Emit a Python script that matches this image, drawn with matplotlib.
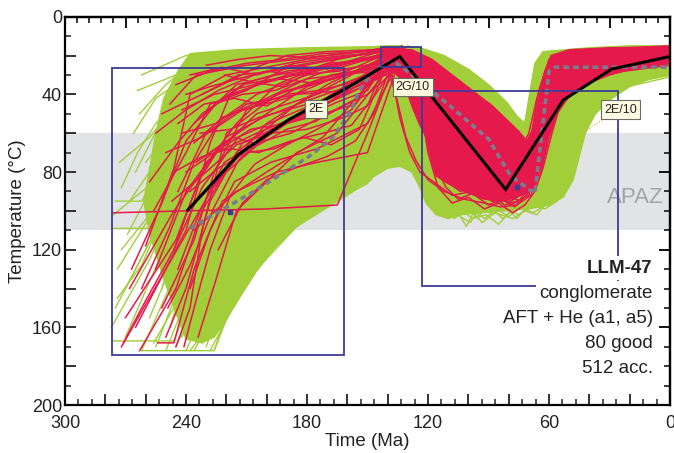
import matplotlib
matplotlib.use("Agg")
import matplotlib.pyplot as plt
from matplotlib.patches import Rectangle, Polygon
from matplotlib.ticker import MultipleLocator, FuncFormatter

plt.rcParams['font.family'] = ['Liberation Sans', 'DejaVu Sans']

# ---------------- data ----------------
GREEN = '#a2ce3a'
RED = '#e5194b'
NAVY = '#3c3c96'

apaz_T = (60, 110)

# constraint boxes: (t_old, t_young, T_top, T_bottom)
box_2E = (276.8, 161.7, 26.4, 174.0)
box_2G10 = (143.3, 123.5, 15.6, 25.9)
box_2E10 = (123.0, 25.8, 38.3, 138.8)

box_labels = ['2E', '2G/10', '2E/10']
box_label_t = [175.6, 127.5, 24.3]
box_label_T = [47.6, 36.3, 47.8]

# dense envelope of acceptable (green) paths
green_core_t = [240, 246, 252, 258, 261, 258, 255, 251, 244, 238, 215, 180, 150, 135, 124, 112, 100, 90, 81, 76, 72, 70, 67, 63, 40, 20, 0,
                0, 10, 20, 30, 37, 42, 45, 48, 53, 60, 70, 82, 95, 104, 110, 116, 121, 124, 128, 134, 140, 148, 160, 172, 185, 196, 205, 213, 220, 226, 232]
green_core_T = [166, 150, 132, 112, 95, 78, 60, 42, 28, 19, 17, 16, 15.5, 15, 16, 20, 27, 35, 44, 51, 55, 42, 24, 18, 16, 15, 15,
                30, 32, 36, 43, 50, 60, 72, 84, 93, 97, 99, 100, 101, 102, 104, 102, 96, 88, 80, 77, 78, 83, 91, 99, 108, 119, 131, 144, 156, 165, 168]

# dense envelope of good (red) paths
red_core_t = [142, 128, 118, 108, 98, 88, 80, 75, 71, 68, 65, 62, 59, 50, 30, 0,
              0, 15, 30, 42, 50, 56, 60, 64, 68, 74, 82, 92, 102, 110, 116, 119, 121, 124, 128, 132, 138, 142]
red_core_T = [16.5, 17, 22, 30, 38, 46, 54, 59, 64, 58, 42, 28, 20, 17, 16, 15.5,
              24, 26, 30, 35, 41, 50, 62, 78, 88, 92, 95, 94, 90, 86, 82, 72, 62, 56, 46, 34, 27, 24]

# acceptable paths, start -> constraint 2G/10
green_early = [
    [(275, 150), (255, 110), (235, 60), (200, 30), (160, 22), (138, 18)],
    [(270, 165), (245, 105), (225, 55), (190, 35), (150, 25), (132, 20)],
    [(262, 172), (240, 120), (222, 70), (205, 45), (170, 30), (140, 22)],
    [(255, 170), (233, 112), (215, 70), (190, 48), (160, 30), (135, 17)],
    [(250, 172), (228, 115), (212, 80), (196, 55), (165, 40), (128, 22)],
    [(245, 170), (225, 125), (208, 90), (185, 65), (160, 50), (130, 24)],
    [(240, 172), (222, 130), (205, 105), (180, 80), (155, 70), (137, 20)],
    [(236, 172), (220, 140), (200, 115), (175, 95), (150, 85), (134, 23)],
    [(232, 168), (215, 135), (195, 110), (170, 92), (148, 80), (127, 18)],
    [(228, 172), (212, 140), (203, 128), (185, 108), (160, 92), (130, 25)],
    [(274, 130), (250, 90), (230, 60), (200, 40), (165, 25), (142, 16)],
    [(272, 120), (245, 85), (220, 55), (185, 30), (145, 20)],
    [(276, 102), (250, 80), (235, 40), (200, 25), (150, 18), (136, 16)],
    [(268, 95), (245, 60), (225, 35), (180, 22), (140, 16)],
    [(265, 80), (248, 45), (230, 28), (190, 20), (131, 17)],
    [(263, 50), (250, 35), (235, 22), (200, 18), (133, 15)],
    [(262, 30), (240, 20), (200, 17), (160, 16), (135, 16)],
    [(277, 160), (258, 125), (245, 95), (225, 75), (195, 55), (129, 21)],
    [(270, 140), (250, 100), (240, 80), (215, 50), (175, 32), (126, 24)],
    [(258, 155), (238, 105), (226, 85), (205, 60), (168, 40), (139, 19)],
    [(248, 160), (236, 120), (218, 90), (198, 70), (170, 58), (133, 22)],
    [(242, 165), (230, 130), (216, 105), (192, 85), (165, 75), (141, 24)],
    [(238, 160), (226, 120), (214, 95), (188, 75), (158, 60), (128, 19)],
    [(252, 140), (238, 90), (222, 60), (205, 40), (180, 28), (137, 17)],
    [(258, 110), (240, 75), (225, 50), (210, 35), (172, 25), (143, 18)],
    [(266, 60), (255, 42), (238, 30), (215, 22), (185, 18), (138, 15)],
    [(260, 75), (245, 55), (232, 38), (208, 28), (160, 20), (125, 20)],
    [(250, 128), (233, 95), (219, 72), (200, 52), (155, 35), (134, 25)],
    [(256, 168), (234, 128), (221, 100), (210, 78), (182, 60), (130, 18)],
    [(246, 150), (229, 110), (213, 82), (193, 62), (160, 45), (136, 21)],
    [(230, 170), (218, 135), (205, 112), (190, 98), (170, 88), (150, 82), (143, 60), (138, 24)],
    [(226, 172), (214, 140), (204, 125), (188, 108), (168, 95), (150, 86), (145, 70), (134, 20)],
    [(238, 172), (222, 150), (210, 130), (196, 112), (178, 100), (160, 92), (148, 84), (140, 50), (131, 22)],
    [(276, 167), (246, 167), (232, 130), (218, 96), (196, 72), (170, 55), (132, 19)],
    [(262, 172), (226, 172), (216, 140), (205, 118), (190, 96), (165, 80), (136, 23)],
    [(273, 75), (258, 62), (245, 45), (220, 30), (175, 20), (140, 17)],
    [(276, 109), (258, 109), (244, 88), (230, 70), (212, 52), (180, 40), (129, 20)],
    [(275, 95), (262, 95), (250, 72), (236, 50), (214, 35), (170, 24), (127, 16)],
    [(264, 38), (245, 30), (222, 25), (190, 22), (144, 19)],
    [(272, 88), (264, 70), (255, 55), (240, 40), (215, 30), (180, 24), (139, 18)],
    [(269, 112), (257, 88), (247, 66), (232, 48), (208, 38), (170, 28), (135, 21)],
    [(274, 145), (262, 128), (252, 104), (240, 86), (224, 64), (196, 46), (140, 23)],
]

# acceptable paths, constraint 2G/10 -> present
green_late = [
    [(140, 16), (124, 20), (118, 45), (114, 80), (110, 96), (105, 101), (101, 108), (97, 100), (92, 104), (86, 99), (80, 103), (74, 98), (68, 101), (60, 96), (53, 92), (48, 70), (44, 50), (38, 40), (20, 33), (0, 29)],
    [(132, 18), (123, 40), (119, 75), (116, 92), (112, 100), (108, 96), (104, 103), (99, 106), (94, 98), (88, 102), (82, 97), (76, 104), (70, 97), (62, 99), (56, 95), (50, 80), (46, 60), (40, 48), (25, 37), (0, 31)],
    [(127, 22), (121, 60), (117, 88), (113, 95), (107, 104), (100, 99), (93, 106), (87, 101), (78, 104), (72, 100), (66, 102), (58, 92), (52, 86), (47, 62), (42, 45), (30, 38), (10, 30), (0, 28)],
    [(135, 19), (126, 45), (122, 78), (118, 90), (111, 98), (104, 95), (96, 103), (89, 98), (83, 104), (77, 99), (71, 95), (64, 97), (57, 88), (51, 68), (47, 52), (35, 40), (15, 31), (0, 27)],
    [(129, 17), (116, 35), (108, 55), (102, 70), (96, 84), (90, 92), (84, 98), (78, 95), (72, 92), (66, 88), (60, 70), (55, 45), (48, 35), (30, 28), (0, 24)],
    [(138, 22), (122, 30), (110, 42), (98, 58), (88, 72), (80, 84), (74, 90), (68, 85), (63, 60), (58, 38), (50, 28), (25, 22), (0, 20)],
    [(124, 16), (110, 22), (98, 30), (88, 38), (80, 46), (75, 54), (72, 56), (69, 42), (66, 24), (60, 19), (30, 16), (0, 15)],
    [(130, 15), (115, 20), (104, 26), (95, 33), (86, 42), (78, 52), (73, 58), (70, 46), (67, 30), (62, 20), (40, 17), (0, 16)],
    [(133, 20), (120, 28), (106, 38), (93, 50), (83, 62), (76, 72), (71, 78), (67, 62), (64, 40), (59, 24), (35, 19), (0, 17)],
    [(126, 25), (118, 50), (113, 70), (106, 85), (99, 93), (91, 97), (84, 93), (79, 100), (73, 96), (67, 93), (61, 80), (56, 58), (52, 40), (45, 30), (20, 25), (0, 22)],
    [(136, 17), (125, 38), (120, 62), (116, 82), (110, 90), (103, 92), (96, 96), (88, 94), (81, 99), (75, 102), (69, 98), (63, 93), (58, 80), (54, 62), (50, 45), (40, 35), (20, 27), (0, 25)],
    [(128, 21), (121, 52), (117, 70), (113, 86), (109, 95), (104, 99), (98, 104), (91, 102), (85, 107), (80, 101), (75, 98), (68, 96), (61, 94), (55, 89), (49, 74), (45, 55), (37, 43), (22, 35), (0, 30)],
    [(141, 18), (128, 28), (114, 48), (104, 62), (95, 75), (87, 86), (80, 92), (73, 88), (68, 75), (64, 52), (60, 32), (52, 24), (25, 20), (0, 18)],
    [(131, 24), (123, 65), (119, 84), (114, 93), (108, 89), (102, 97), (95, 92), (89, 96), (82, 90), (76, 94), (70, 90), (65, 82), (59, 62), (53, 42), (45, 33), (28, 27), (0, 23)],
    [(137, 16), (129, 26), (120, 34), (110, 46), (100, 56), (90, 66), (82, 76), (76, 80), (71, 72), (66, 50), (62, 30), (55, 22), (30, 18), (0, 17)],
]

# good paths, start -> constraint 2G/10
red_early = [
    [(276, 101), (240, 100), (200, 99), (165, 97), (150, 60), (135, 20)],
    [(272, 170), (250, 130), (225, 85), (200, 55), (170, 35), (136, 18)],
    [(270, 155), (245, 115), (230, 75), (205, 50), (175, 40), (132, 22)],
    [(263, 172), (245, 140), (232, 100), (215, 70), (185, 45), (140, 20)],
    [(245, 170), (238, 150), (232, 110), (220, 60), (195, 40), (160, 30), (130, 17)],
    [(250, 165), (240, 140), (228, 95), (212, 65), (180, 50), (128, 20)],
    [(268, 140), (246, 100), (225, 70), (205, 60), (170, 45), (138, 24)],
    [(240, 100), (220, 80), (200, 62), (180, 48), (160, 35), (134, 19)],
    [(255, 130), (240, 90), (215, 55), (195, 35), (165, 22), (137, 16)],
    [(260, 118), (246, 78), (238, 40), (220, 30), (180, 22), (142, 18)],
    [(242, 60), (225, 55), (205, 40), (180, 30), (150, 25), (129, 23)],
    [(238, 140), (228, 110), (216, 85), (198, 75), (175, 68), (150, 55), (133, 20)],
    [(248, 45), (235, 30), (210, 25), (170, 20), (139, 16)],
    [(252, 150), (236, 115), (226, 80), (210, 48), (190, 38), (155, 28), (131, 21)],
    [(236, 110), (215, 90), (195, 80), (175, 75), (150, 70), (135, 25)],
    [(265, 160), (240, 110), (228, 65), (218, 40), (190, 30), (140, 19)],
    [(244, 90), (230, 60), (210, 45), (185, 40), (160, 38), (127, 24)],
    [(234, 165), (225, 135), (215, 100), (200, 85), (185, 70), (165, 60), (136, 22)],
    [(258, 85), (244, 65), (232, 50), (212, 35), (175, 28), (141, 17)],
    [(230, 50), (215, 35), (195, 30), (165, 24), (134, 18)],
    [(271, 168), (262, 150), (246, 120), (232, 88), (214, 62), (188, 50), (146, 32), (129, 21)],
    [(254, 168), (246, 168), (236, 130), (222, 95), (200, 80), (172, 62), (137, 19)],
    [(250, 70), (232, 62), (212, 48), (190, 42), (168, 32), (145, 24), (128, 18)],
    [(246, 120), (234, 85), (220, 62), (202, 52), (182, 44), (160, 36), (140, 22)],
    [(262, 140), (248, 108), (236, 75), (222, 52), (200, 42), (176, 30), (150, 22), (131, 16)],
    [(240, 80), (226, 70), (208, 58), (190, 55), (172, 50), (156, 45), (144, 22)],
    [(236, 55), (222, 42), (204, 35), (186, 30), (164, 28), (146, 24), (126, 22)],
    [(256, 100), (240, 70), (228, 45), (210, 38), (190, 26), (168, 22), (137, 17)],
    [(244, 130), (233, 100), (221, 75), (205, 65), (188, 60), (170, 50), (155, 42), (138, 20)],
    [(232, 40), (214, 30), (196, 28), (176, 24), (156, 20), (133, 16)],
    [(249, 150), (238, 128), (226, 98), (214, 74), (197, 58), (178, 48), (160, 40), (130, 24)],
    [(241, 170), (236, 150), (228, 120), (218, 92), (206, 76), (190, 66), (175, 58), (158, 48), (142, 26)],
    [(228, 90), (214, 72), (198, 58), (182, 52), (165, 44), (150, 38), (139, 20)],
    [(255, 60), (240, 48), (224, 38), (206, 30), (186, 24), (166, 21), (140, 18)],
    [(267, 130), (252, 96), (240, 64), (226, 46), (210, 34), (190, 28), (135, 20)],
    [(235, 75), (220, 64), (200, 50), (180, 36), (160, 30), (148, 27), (132, 22)],
    [(224, 120), (212, 96), (200, 84), (186, 78), (170, 72), (156, 64), (147, 50), (136, 18)],
    [(247, 95), (230, 80), (215, 66), (198, 60), (180, 58), (162, 52), (150, 46), (141, 23)],
    [(245, 35), (228, 28), (210, 24), (192, 22), (172, 19), (150, 18), (134, 16)],
    [(238, 30), (222, 26), (205, 30), (188, 25), (170, 27), (152, 22), (137, 17)],
    [(242, 48), (226, 40), (210, 36), (194, 32), (178, 34), (160, 28), (143, 20)],
    [(236, 65), (222, 52), (206, 46), (190, 40), (174, 38), (158, 34), (140, 24)],
    [(230, 25), (214, 22), (198, 20), (180, 21), (160, 19), (141, 16)],
    [(244, 55), (231, 45), (216, 42), (200, 46), (184, 36), (168, 30), (150, 27), (130, 19)],
    [(226, 45), (212, 40), (196, 38), (180, 32), (164, 30), (146, 28), (128, 24)],
    [(240, 40), (228, 36), (214, 32), (200, 28), (186, 30), (170, 24), (155, 23), (136, 20)],
    [(233, 60), (218, 58), (204, 52), (190, 48), (176, 44), (162, 40), (149, 35), (139, 25)],
    [(252, 50), (236, 42), (220, 34), (205, 26), (190, 20), (170, 18), (145, 17)],
    [(228, 70), (216, 62), (204, 66), (190, 58), (176, 54), (162, 46), (150, 40), (132, 24)],
    [(246, 80), (232, 72), (218, 68), (204, 70), (188, 64), (172, 60), (158, 56), (146, 40), (134, 21)],
    [(221, 30), (206, 34), (192, 36), (178, 28), (162, 24), (148, 21), (127, 20)],
    [(238, 90), (224, 78), (210, 70), (196, 68), (182, 62), (168, 66), (154, 58), (144, 34), (138, 18)],
]

# good paths, constraint 2G/10 -> present
red_late = [
    [(136, 18), (122, 30), (108, 48), (95, 66), (86, 80), (80, 90), (74, 84), (66, 60), (60, 40), (54, 28), (35, 22), (0, 18)],
    [(132, 20), (118, 40), (104, 60), (92, 78), (84, 90), (78, 94), (70, 82), (63, 55), (57, 36), (48, 27), (20, 21), (0, 19)],
    [(129, 23), (121, 55), (115, 72), (105, 82), (96, 90), (88, 95), (81, 92), (74, 95), (68, 88), (63, 68), (58, 45), (52, 32), (30, 24), (0, 21)],
    [(139, 16), (126, 24), (114, 38), (102, 50), (92, 62), (84, 74), (78, 82), (73, 86), (68, 70), (64, 45), (60, 26), (50, 20), (25, 17), (0, 16)],
    [(127, 19), (119, 48), (112, 66), (104, 78), (95, 88), (86, 92), (79, 97), (72, 93), (66, 80), (61, 58), (56, 40), (46, 30), (25, 24), (0, 20)],
    [(134, 17), (120, 26), (108, 36), (97, 48), (88, 58), (80, 68), (75, 70), (70, 60), (66, 42), (62, 28), (55, 21), (30, 18), (0, 17)],
    [(130, 22), (123, 45), (116, 62), (110, 75), (102, 84), (94, 92), (86, 96), (80, 93), (74, 90), (69, 78), (64, 62), (59, 48), (52, 38), (40, 30), (15, 24), (0, 22)],
    [(138, 19), (124, 28), (112, 44), (100, 60), (90, 72), (82, 86), (76, 92), (71, 88), (66, 66), (62, 44), (58, 30), (50, 23), (20, 19), (0, 18)],
    [(125, 24), (120, 40), (113, 58), (106, 70), (98, 80), (90, 86), (83, 88), (77, 91), (70, 86), (65, 64), (61, 44), (55, 33), (40, 26), (10, 22), (0, 21)],
    [(133, 15), (121, 33), (110, 52), (100, 66), (92, 76), (85, 84), (79, 88), (73, 80), (68, 62), (63, 38), (58, 24), (45, 18), (20, 16), (0, 15)],
    [(128, 20), (122, 38), (118, 70), (112, 84), (104, 90), (96, 86), (88, 92), (82, 97), (76, 95), (70, 92), (65, 74), (60, 52), (55, 38), (48, 31), (30, 26), (0, 23)],
    [(136, 21), (126, 32), (116, 50), (106, 64), (97, 74), (89, 82), (81, 85), (75, 86), (70, 76), (65, 56), (60, 34), (52, 25), (35, 20), (0, 19)],
    [(131, 18), (120, 30), (109, 40), (99, 52), (91, 60), (84, 66), (78, 72), (73, 75), (69, 62), (65, 38), (60, 22), (40, 18), (0, 17)],
    [(126, 22), (121, 62), (116, 78), (111, 88), (105, 94), (98, 91), (90, 97), (83, 94), (77, 98), (72, 91), (67, 84), (62, 66), (57, 48), (51, 36), (40, 29), (20, 25), (0, 22)],
    [(140, 17), (128, 22), (117, 34), (104, 46), (94, 56), (86, 64), (80, 70), (74, 78), (70, 72), (66, 50), (62, 32), (57, 22), (30, 18), (0, 16)],
    [(132, 24), (122, 36), (112, 55), (102, 72), (94, 82), (87, 90), (80, 96), (74, 91), (69, 80), (64, 60), (59, 42), (54, 32), (38, 26), (15, 22), (0, 20)],
    [(127, 24), (120, 70), (115, 88), (108, 96), (100, 93), (92, 99), (85, 96), (78, 101), (72, 97), (67, 90), (63, 78), (58, 58), (54, 44), (46, 35), (25, 28), (0, 24)],
    [(142, 20), (136, 40), (131, 62), (126, 74), (120, 84), (112, 90), (102, 94), (92, 96), (84, 98), (76, 97), (69, 92), (64, 80), (60, 62), (55, 46), (48, 36), (30, 29), (0, 25)],
    [(139, 24), (134, 52), (129, 70), (124, 80), (116, 86), (108, 92), (98, 90), (88, 94), (79, 95), (71, 90), (66, 76), (62, 56), (58, 38), (50, 28), (25, 22), (0, 19)],
]

# best-fit path (black) and weighted mean path (grey dashed)
best_t = [239, 214, 189, 174, 159, 134, 81.5, 53, 29, 0]
best_T = [99.5, 71, 53, 44.5, 36, 20.5, 89, 43, 27, 20.5]
mean_t = [238, 208, 179, 167, 159, 154, 148, 141, 137, 129, 109, 90, 79, 67, 60, 57, 0]
mean_T = [109, 91, 72, 62, 50, 38, 29, 24, 23, 29, 46, 63, 82, 91, 28, 26, 26]

marker_t = [218.4, 76]
marker_T = [100.5, 87.6]

leader_t = [45, 29]
leader_T = [61, 50]

info_lines = ['LLM-47', 'conglomerate', 'AFT + He (a1, a5)', '80 good', '512 acc.']
info_T = [129.5, 142.4, 155.3, 168.2, 181.0]
info_t = 8.5

# ---------------- figure ----------------
W, H = 674, 453
fig = plt.figure(figsize=(W / 100, H / 100), dpi=100)
ax = fig.add_axes([65 / W, 1 - 405 / H, 605 / W, (405 - 16.7) / H])
ax.set_xlim(300, 0)
ax.set_ylim(200, 0)

ax.axhspan(apaz_T[0], apaz_T[1], color='#e2e3e5', zorder=0, lw=0)
ax.text(17.4, 92.9, 'APAZ', color='#a3a3a6', fontsize=16, ha='center', va='center', zorder=1)

ax.add_patch(Polygon(list(zip(green_core_t, green_core_T)), closed=True, fc=GREEN, ec=GREEN, lw=1.0, zorder=2))
for p in green_early + green_late:
    t, T = zip(*p)
    ax.plot(t, T, color=GREEN, lw=1.0, zorder=3)
ax.add_patch(Polygon(list(zip(red_core_t, red_core_T)), closed=True, fc=RED, ec=RED, lw=1.0, zorder=4))
for p in red_early + red_late:
    t, T = zip(*p)
    ax.plot(t, T, color=RED, lw=1.1, zorder=5)

ax.plot(leader_t, leader_T, color='#f0a030', lw=0.8, ls=':', zorder=6)
ax.plot(mean_t, mean_T, color='#7c7c8c', lw=2.6, ls=(0, (1.6, 1.1)), zorder=7)
ax.plot(best_t, best_T, color='black', lw=2.2, zorder=8, solid_joinstyle='miter')
ax.plot(marker_t, marker_T, ls='none', marker='s', ms=3, color=NAVY, zorder=9)

for (t0, t1, Ta, Tb) in [box_2E, box_2G10, box_2E10]:
    ax.add_patch(Rectangle((t1, Ta), t0 - t1, Tb - Ta, fill=False, ec=NAVY, lw=1.3, zorder=10))

for lab, t, T in zip(box_labels, box_label_t, box_label_T):
    ax.text(t, T, lab, fontsize=9, ha='center', va='center', color='#222222', zorder=11,
            bbox=dict(boxstyle='square,pad=0.25', fc='#fffbe0', ec='#6a6a6a', lw=0.8))

for i, (s, T) in enumerate(zip(info_lines, info_T)):
    ax.text(info_t, T, s, fontsize=13.5, ha='right', va='center', color='#222222',
            fontweight='bold' if i == 0 else 'normal', zorder=12,
            bbox=dict(boxstyle='square,pad=0.2', fc='white', ec='none'))

# axes styling
for sp in ax.spines.values():
    sp.set_linewidth(1.6)
    sp.set_zorder(20)

ax.xaxis.set_major_locator(MultipleLocator(20))
ax.xaxis.set_minor_locator(MultipleLocator(20 / 3))
ax.xaxis.set_major_formatter(FuncFormatter(lambda v, p: f'{int(round(v))}' if round(v) % 60 == 0 else ''))
ax.yaxis.set_major_locator(MultipleLocator(20))
ax.yaxis.set_minor_locator(MultipleLocator(10))
ax.yaxis.set_major_formatter(FuncFormatter(lambda v, p: f'{int(round(v))}' if round(v) % 40 == 0 else ''))
ax.tick_params(which='both', direction='in', top=False, right=False, colors='#222222', zorder=21)
ax.tick_params(which='major', length=8, width=1.3, labelsize=13)
ax.tick_params(which='minor', length=4, width=1.1)
ax.tick_params(axis='x', pad=7)
ax.tick_params(axis='y', pad=2)

secx = ax.secondary_xaxis('top')
secx.xaxis.set_major_locator(MultipleLocator(30))
secx.xaxis.set_minor_locator(MultipleLocator(6))
secx.tick_params(which='both', direction='in', labeltop=False)
secx.tick_params(which='major', length=8, width=1.3)
secx.tick_params(which='minor', length=4, width=1.1)
secx.spines['top'].set_linewidth(1.6)

secy = ax.secondary_yaxis('right')
secy.yaxis.set_major_locator(MultipleLocator(40))
secy.yaxis.set_minor_locator(MultipleLocator(10))
secy.tick_params(which='both', direction='in', labelright=False)
secy.tick_params(which='major', length=8, width=1.3)
secy.tick_params(which='minor', length=4, width=1.1)
secy.spines['right'].set_linewidth(1.6)

ax.set_xlabel('Time (Ma)', fontsize=13.5, color='#222222', labelpad=1)
ax.set_ylabel('Temperature (°C)', fontsize=13.5, color='#222222', labelpad=4)

fig.savefig('out.png', dpi=100)
